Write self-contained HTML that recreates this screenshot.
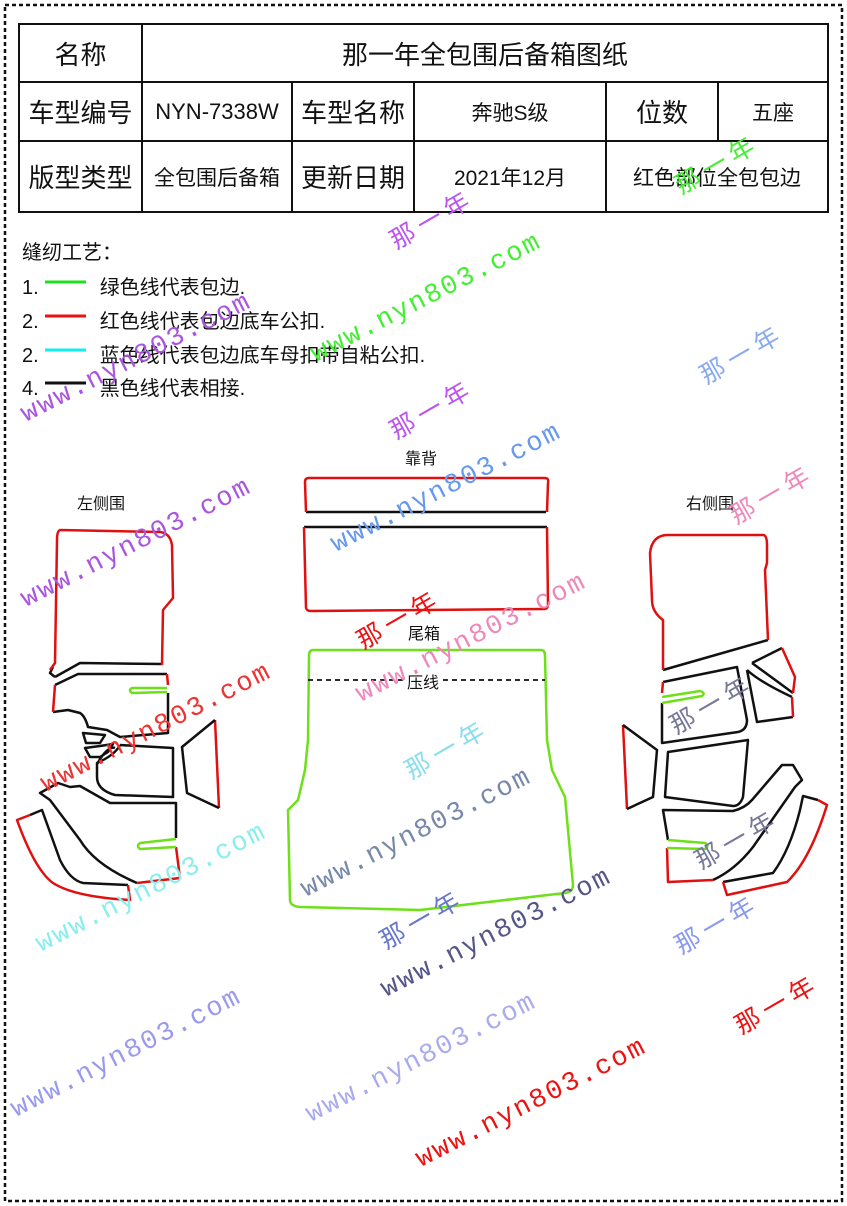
<!DOCTYPE html>
<html><head><meta charset="utf-8"><style>
body{margin:0;background:#fff;}
.w{position:relative;width:847px;height:1206px;overflow:hidden;font-family:"Liberation Sans","Noto Sans CJK SC",sans-serif;}
table{position:absolute;left:18px;top:23px;border-collapse:collapse;width:811px;}
td{border:2px solid #111;text-align:center;font-size:26px;color:#111;padding:0;white-space:nowrap;}
.s{font-size:21px}
.leg{position:absolute;left:22px;font-size:20px;color:#111;}
.wm{position:absolute;font-family:"Liberation Mono",monospace;font-size:27px;transform:rotate(-27deg);transform-origin:left bottom;white-space:nowrap;letter-spacing:2px}
.wn{position:absolute;font-size:25px;transform:rotate(-30deg);white-space:nowrap;letter-spacing:6px}
.lb{position:absolute;font-size:16px;color:#111}
</style></head><body><div class="w">
<svg width="847" height="1206" style="position:absolute;left:0;top:0">
<rect x="5" y="5" width="837" height="1196" fill="none" stroke="#111" stroke-width="2.5" stroke-dasharray="4 3"/>
<g fill="none" stroke-width="2.5" stroke-linejoin="round">
<path d="M162,664 L80,663 L55,677 M53,667 L50,673 L55,677" stroke="#111"/>
<path d="M162,665 L163,610 L173,598 L172,545 Q170,533 160,532 L60,530 Q57,531 57,540 L55,663 L50,670" stroke="#e01010"/>
<path d="M55,685 L78,674 L167,674 M168,693 L168,733 L120,737 L107,730 L88,727 Q85,716 80,713 L68,710 L53,712" stroke="#111"/>
<path d="M167,674 L168,685 M53,712 L55,685" stroke="#e01010"/>
<path d="M167,688 L132,688 Q128,690 132,693 L167,692" stroke="#6ee01a"/>
<path d="M83,733 L105,735 L100,743 L86,743 Z M85,748 L100,746 L113,744 L108,752 L100,757 L90,757 Z M115,748 Q108,745 97,764" stroke="#111"/>
<path d="M120,745 L173,748 L173,797 L115,795 Q97,790 97,777 L97,763 Q115,755 120,745" stroke="#111"/>
<path d="M215,720 L219,808" stroke="#e01010"/>
<path d="M215,720 L182,747 L187,793 L219,808" stroke="#111"/>
<path d="M176,838 L176,803 L110,803 L80,786 L70,787 L58,783 L40,793 L50,800 L80,840 Q95,865 137,883" stroke="#111"/>
<path d="M176,847 L180,878 L137,883" stroke="#e01010"/>
<path d="M176,839 L140,843 Q136,846 140,849 L176,847" stroke="#6ee01a"/>
<path d="M128,885 L83,883 Q70,880 60,860 L42,810 L30,815" stroke="#111"/>
<path d="M30,815 L17,820 Q35,870 53,883 Q75,897 130,900 L128,885" stroke="#e01010"/>
<path d="M306,512 L546,512" stroke="#111"/>
<path d="M306,512 L305,482 Q305,478 309,478 L545,478 Q549,478 548,483 L547,512" stroke="#e01010"/>
<path d="M304,527 L547,527" stroke="#111"/>
<path d="M304,527 L306,608 Q307,611 311,611 L544,609 Q548,609 548,604 L547,527" stroke="#e01010"/>
<path d="M313,650 L541,650 Q545,650 545,656 L547,740 L552,770 L565,797 L573,885 Q573,892 565,893 L420,910 L300,907 Q290,906 290,900 L288,810 L298,800 L305,770 L308,740 L309,656 Q309,650 313,650 Z" stroke="#6ee01a"/>
<path d="M308,680 L545,680" stroke="#111" stroke-width="1.8" stroke-dasharray="5 4"/>
<path d="M768,640 L663,670" stroke="#111"/>
<path d="M663,670 L663,620 Q652,612 652,600 L650,553 Q652,535 668,535 L763,535 Q767,535 767,545 L767,563 L765,570 L768,640" stroke="#e01010"/>
<path d="M663,682 L737,667 L747,720 Q747,730 738,732 L662,743 L662,703" stroke="#111"/>
<path d="M662,693 L663,682" stroke="#e01010"/>
<path d="M662,697 L700,691 Q706,693 702,696 L662,703" stroke="#6ee01a"/>
<path d="M752,663 L782,648 M793,693 L752,663 M747,670 L757,722 L793,717 M792,697 Q760,682 747,670" stroke="#111"/>
<path d="M782,648 L795,677 L793,693 M792,697 L793,717" stroke="#e01010"/>
<path d="M623,725 L627,809" stroke="#e01010"/>
<path d="M623,725 L657,750 L653,797 L627,809" stroke="#111"/>
<path d="M668,752 L748,740 L743,797 Q740,806 733,806 L665,797 Z" stroke="#111"/>
<path d="M668,840 L663,810 L733,811 Q745,808 752,800 L782,765 L793,765 L802,780 L795,787 L753,847 Q735,870 713,880" stroke="#111"/>
<path d="M713,880 L668,882 L667,848" stroke="#e01010"/>
<path d="M668,840 L705,843 Q710,846 705,849 L667,848" stroke="#6ee01a"/>
<path d="M818,800 L803,796 L800,810 Q790,850 773,873 L723,882" stroke="#111"/>
<path d="M723,882 L727,895 L787,882 Q810,860 827,805 L818,800" stroke="#e01010"/>
</g>
<g stroke-width="3"><line x1="45" y1="282" x2="86" y2="282" stroke="#1ee01e"/><line x1="45" y1="316" x2="86" y2="316" stroke="#ee1111"/><line x1="45" y1="350" x2="86" y2="350" stroke="#11eeee"/><line x1="45" y1="383" x2="86" y2="383" stroke="#111"/></g>
</svg>
<table>
<tr style="height:58px"><td style="width:121px">名称</td><td colspan="5">那一年全包围后备箱图纸</td></tr>
<tr style="height:59px"><td>车型编号</td><td style="width:148px;font-size:22px">NYN-7338W</td><td style="width:120px">车型名称</td><td class="s" style="width:190px">奔驰S级</td><td style="width:110px">位数</td><td class="s">五座</td></tr>
<tr style="height:71px"><td>版型类型</td><td class="s">全包围后备箱</td><td>更新日期</td><td class="s">2021年12月</td><td colspan="2" class="s">红色部位全包包边</td></tr>
</table>
<div class="leg" style="top:236px">缝纫工艺：</div>
<div class="leg" style="top:271px">1.<span style="display:inline-block;width:61px"></span>绿色线代表包边.</div>
<div class="leg" style="top:305px">2.<span style="display:inline-block;width:61px"></span>红色线代表包边底车公扣.</div>
<div class="leg" style="top:339px">2.<span style="display:inline-block;width:61px"></span>蓝色线代表包边底车母扣带自粘公扣.</div>
<div class="leg" style="top:372px">4.<span style="display:inline-block;width:61px"></span>黑色线代表相接.</div>
<div class="lb" style="left:405px;top:445px">靠背</div>
<div class="lb" style="left:408px;top:620px">尾箱</div>
<div class="lb" style="left:407px;top:669px;background:#fff">压线</div>
<div class="lb" style="left:77px;top:490px">左侧围</div>
<div class="lb" style="left:686px;top:490px">右侧围</div>
<div class="wm" style="left:320px;top:340px;color:#44ee33">www.nyn803.com</div>
<div class="wm" style="left:30px;top:400px;color:#aa55dd">www.nyn803.com</div>
<div class="wm" style="left:340px;top:530px;color:#6699ee">www.nyn803.com</div>
<div class="wm" style="left:30px;top:585px;color:#aa55dd">www.nyn803.com</div>
<div class="wm" style="left:365px;top:680px;color:#ee88bb">www.nyn803.com</div>
<div class="wm" style="left:50px;top:770px;color:#ee3333">www.nyn803.com</div>
<div class="wm" style="left:310px;top:875px;color:#7788aa">www.nyn803.com</div>
<div class="wm" style="left:45px;top:930px;color:#88eeee">www.nyn803.com</div>
<div class="wm" style="left:390px;top:975px;color:#555588">www.nyn803.com</div>
<div class="wm" style="left:20px;top:1095px;color:#9999ee">www.nyn803.com</div>
<div class="wm" style="left:315px;top:1100px;color:#aaaaee">www.nyn803.com</div>
<div class="wm" style="left:425px;top:1145px;color:#ee1111">www.nyn803.com</div>
<div class="wn" style="left:385px;top:200px;color:#bb55ee">那一年</div>
<div class="wn" style="left:385px;top:390px;color:#bb55ee">那一年</div>
<div class="wn" style="left:670px;top:145px;color:#44ee33">那一年</div>
<div class="wn" style="left:695px;top:335px;color:#88aaee">那一年</div>
<div class="wn" style="left:725px;top:475px;color:#ee88bb">那一年</div>
<div class="wn" style="left:352px;top:600px;color:#ee1111">那一年</div>
<div class="wn" style="left:400px;top:730px;color:#88ddee">那一年</div>
<div class="wn" style="left:665px;top:685px;color:#777799">那一年</div>
<div class="wn" style="left:690px;top:820px;color:#777799">那一年</div>
<div class="wn" style="left:375px;top:900px;color:#6677cc">那一年</div>
<div class="wn" style="left:670px;top:905px;color:#8899ee">那一年</div>
<div class="wn" style="left:730px;top:985px;color:#ee1111">那一年</div>
</div></body></html>
